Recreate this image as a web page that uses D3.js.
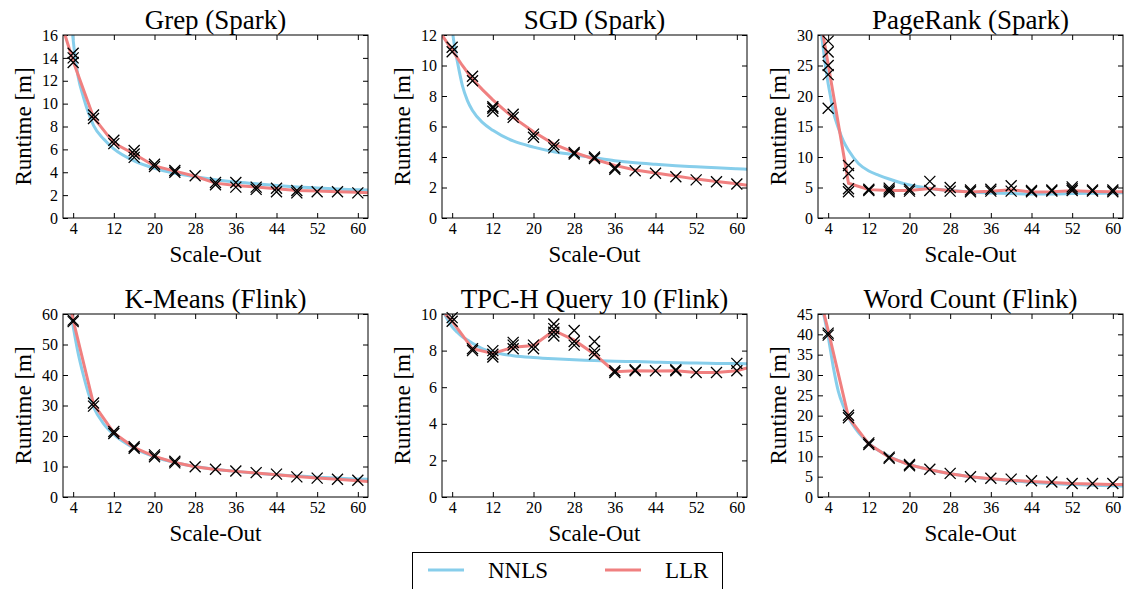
<!DOCTYPE html>
<html>
<head>
<meta charset="utf-8">
<script src="https://cdn.jsdelivr.net/npm/d3@7"></script>
<style>
	body { margin: 0; background: #fff; }
	svg { font-family: "Liberation Serif", "Times New Roman", serif; }
</style>
</head>
<body>
<svg width="1130" height="589"></svg>
<script>
// scale-outs of the experiments
var scaleOuts = [4, 8, 12, 16, 20, 24, 28, 32, 36, 40, 44, 48, 52, 56, 60];
var xTicks = [4, 12, 20, 28, 36, 44, 52, 60];

// measured runtimes, one list of runs per scale-out
var grepRuns = [[13.6, 14.0, 14.4], [8.7, 9.0], [6.5, 6.8], [5.3, 5.6, 5.9], [4.5, 4.7], [4.0, 4.15], [3.7], [2.9, 3.1],
	[2.7, 3.1], [2.5, 2.7], [2.3, 2.6], [2.2, 2.4], [2.3], [2.3], [2.2]];
var sgdRuns = [[10.9, 11.2], [9.0, 9.3], [7.0, 7.2, 7.3], [6.6, 6.8], [5.3, 5.5], [4.6, 4.8], [4.2, 4.3], [3.9, 4.0],
	[3.2, 3.3], [3.1], [2.93], [2.71], [2.5], [2.38], [2.23]];
var pagerankRuns = [[18, 23.5, 25, 27.2, 29], [4.3, 4.8, 7.3, 8.6], [4.5, 4.7], [4.3, 4.6, 4.9], [4.4, 4.7], [4.5, 6.0],
	[4.4, 5.0], [4.3, 4.6], [4.4, 4.7], [4.4, 5.3], [4.3, 4.5], [4.4, 4.6], [4.5, 4.8, 5.1], [4.4, 4.6], [4.3, 4.6]];
var kmeansRuns = [[57.5, 58], [29.8, 30.8], [20.8, 21.5], [16, 16.5], [13.2, 13.8], [11.2, 11.7], [9.9], [9.1],
	[8.5], [8.0], [7.5], [6.6], [6.2], [5.8], [5.5]];
var tpchRuns = [[9.6, 9.8], [8.0, 8.1], [7.65, 7.8, 8.0], [8.1, 8.3, 8.45], [8.1, 8.3], [8.8, 9.0, 9.2, 9.45],
	[8.3, 8.5, 9.1], [7.8, 8.0, 8.5], [6.8, 6.9], [6.9, 6.95], [6.9], [6.9, 6.95], [6.8], [6.8], [6.9, 7.3]];
var wordcountRuns = [[39.8, 40.3], [19.5, 20.1], [12.9, 13.3], [9.5, 9.8], [7.7, 8.0], [6.84], [5.8], [5.0],
	[4.6], [4.4], [4.0], [3.7], [3.3], [3.3], [3.3]];

// NNLS model curves, [scale-out, runtime]
var grepNNLS = [[3.9, 16], [4.4, 14], [5, 12.3], [6, 10.6], [7, 9.2], [8, 8.1], [10, 6.9], [12, 6.05], [16, 5.0], [20, 4.35],
	[24, 3.9], [28, 3.6], [32, 3.35], [36, 3.15], [40, 3.0], [44, 2.85], [48, 2.72], [52, 2.62], [56, 2.53], [60, 2.47], [62, 2.44]];
var sgdNNLS = [[4.15, 12], [4.5, 11.2], [5, 10.3], [6, 8.7], [7, 7.7], [8, 7.05], [10, 6.25], [12, 5.75], [16, 5.05],
	[20, 4.65], [24, 4.35], [28, 4.15], [32, 3.95], [36, 3.76], [40, 3.62], [44, 3.52], [48, 3.43], [52, 3.36], [56, 3.29], [60, 3.23], [62, 3.2]];
var pagerankNNLS = [[2.7, 30], [3.3, 26], [4, 22], [4.4, 20.2], [5, 17.5], [6, 14.75], [7, 12.6], [8, 11.1], [10, 8.9], [12, 7.7],
	[14, 7.0], [16, 6.4], [20, 5.4], [24, 4.85], [28, 4.5], [32, 4.25], [36, 4.1], [40, 4.0], [44, 3.95], [48, 3.95], [52, 4.0],
	[56, 4.05], [60, 4.1], [62, 4.15]];
var kmeansNNLS = [[3.6, 60], [4, 56], [5, 47], [6, 40], [7, 34], [8, 29.5], [10, 24], [12, 20.5], [16, 16], [20, 13.2], [24, 11.3],
	[28, 10], [32, 9.1], [36, 8.4], [40, 7.8], [44, 7.3], [48, 6.9], [52, 6.5], [56, 6.2], [60, 5.9], [62, 5.8]];
var tpchNNLS = [[2.5, 10], [4, 9.3], [5, 9.0], [6, 8.75], [7, 8.58], [8, 8.4], [10, 8.1], [12, 7.92], [14, 7.8], [16, 7.72],
	[20, 7.62], [24, 7.55], [28, 7.5], [32, 7.46], [36, 7.42], [40, 7.4], [44, 7.37], [48, 7.34], [52, 7.32], [56, 7.3], [60, 7.29], [62, 7.28]];
var wordcountNNLS = [[3.1, 45], [4, 39.5], [5, 32], [6, 26], [7, 22.3], [8, 19.5], [10, 15.8], [12, 13.2], [16, 10], [20, 8.0],
	[24, 6.7], [28, 5.7], [32, 5.0], [36, 4.4], [40, 4.0], [44, 3.6], [48, 3.3], [52, 3.1], [56, 2.9], [60, 2.75], [62, 2.7]];

// LLR model curves, [scale-out, runtime]
var grepLLR = [[2.4, 16], [4, 13.7], [8, 8.8], [12, 6.55], [16, 5.6], [20, 4.55], [24, 4.1], [28, 3.65], [32, 3.05], [36, 2.85],
	[40, 2.7], [44, 2.55], [48, 2.4], [52, 2.35], [56, 2.3], [60, 2.25], [62, 2.2]];
var sgdLLR = [[2, 12], [4, 11.0], [6, 10.0], [8, 9.1], [10, 8.4], [12, 7.75], [14, 7.15], [16, 6.6], [20, 5.65], [24, 4.85],
	[28, 4.3], [32, 3.85], [36, 3.45], [40, 3.15], [44, 2.95], [48, 2.75], [52, 2.55], [56, 2.4], [60, 2.25], [62, 2.15]];
var pagerankLLR = [[3, 30], [4, 25.2], [8, 5.7], [12, 4.65], [16, 4.5], [20, 4.5], [24, 4.85], [28, 4.45], [32, 4.25], [36, 4.4],
	[40, 4.65], [44, 4.25], [48, 4.3], [52, 4.45], [56, 4.35], [60, 4.3], [62, 4.3]];
var kmeansLLR = [[3.7, 60], [4, 58], [8, 30.5], [12, 21], [16, 16.2], [20, 13.3], [24, 11.3], [28, 9.9], [32, 9.0], [36, 8.4],
	[40, 7.9], [44, 7.3], [48, 6.7], [52, 6.2], [56, 5.8], [60, 5.3], [62, 5.1]];
var tpchLLR = [[2.6, 10], [4, 9.6], [8, 8.1], [12, 7.84], [16, 8.18], [20, 8.28], [24, 9.1], [28, 8.57], [32, 7.8], [36, 6.85],
	[40, 6.9], [44, 6.88], [48, 6.9], [52, 6.8], [56, 6.8], [60, 6.9], [62, 7.05]];
var wordcountLLR = [[3.2, 45], [4, 41], [8, 19.6], [12, 13], [16, 9.8], [20, 7.9], [24, 6.7], [28, 5.7], [32, 5.0], [36, 4.5],
	[40, 4.1], [44, 3.8], [48, 3.55], [52, 3.3], [56, 3.2], [60, 3.1], [62, 3.05]];

var titles = ["Grep (Spark)", "SGD (Spark)", "PageRank (Spark)", "K-Means (Flink)", "TPC-H Query 10 (Flink)", "Word Count (Flink)"];
var yMaxes = [16, 12, 30, 60, 10, 45];
var ySteps = [2, 2, 5, 10, 2, 5];
var legendLabels = ["NNLS", "LLR"];

var nnlsColor = "#87ceeb", llrColor = "#f08080";

var panels = [
	{runs: grepRuns, nnls: grepNNLS, llr: grepLLR},
	{runs: sgdRuns, nnls: sgdNNLS, llr: sgdLLR},
	{runs: pagerankRuns, nnls: pagerankNNLS, llr: pagerankLLR},
	{runs: kmeansRuns, nnls: kmeansNNLS, llr: kmeansLLR},
	{runs: tpchRuns, nnls: tpchNNLS, llr: tpchLLR},
	{runs: wordcountRuns, nnls: wordcountNNLS, llr: wordcountLLR}
];

var svg = d3.select('svg');
var colLeft = [63, 442, 818], rowTop = [35, 314];
var pw = 305, ph = 183;

panels.forEach(function(p, i) {
	var left = colLeft[i % 3], top = rowTop[Math.floor(i / 3)];
	var g = svg.append('g').attr('transform', 'translate(' + left + ',' + top + ')');
	var x = d3.scaleLinear().domain([2, 62]).range([0, pw]);
	var y = d3.scaleLinear().domain([0, yMaxes[i]]).range([ph, 0]);
	var yTicks = d3.range(0, yMaxes[i] + 0.001, ySteps[i]);

	g.append('clipPath').attr('id', 'clip' + i)
		.append('rect').attr('width', pw).attr('height', ph);

	// axes, ticks pointing inward on all four sides
	var ax = g.append('g').attr('transform', 'translate(0,' + ph + ')')
		.call(d3.axisBottom(x).tickValues(xTicks).tickSizeInner(-5).tickSizeOuter(0).tickPadding(5));
	var ay = g.append('g')
		.call(d3.axisLeft(y).tickValues(yTicks).tickSizeInner(-5).tickSizeOuter(0).tickPadding(5));
	var at = g.append('g')
		.call(d3.axisTop(x).tickValues(xTicks).tickSizeInner(-5).tickSizeOuter(0).tickFormat(''));
	var ar = g.append('g').attr('transform', 'translate(' + pw + ',0)')
		.call(d3.axisRight(y).tickValues(yTicks).tickSizeInner(-5).tickSizeOuter(0).tickFormat(''));
	[ax, ay, at, ar].forEach(function(a) {
		a.select('.domain').remove();
		a.selectAll('line').attr('stroke', '#000');
		a.selectAll('text').attr('font-family', '"Liberation Serif", "Times New Roman", serif')
			.attr('font-size', 16).attr('fill', '#000');
	});

	// model curves
	var line = d3.line().x(function(d) {return x(d[0])}).y(function(d) {return y(d[1])});
	var plot = g.append('g').attr('clip-path', 'url(#clip' + i + ')');
	plot.append('path').datum(p.nnls)
		.attr('fill', 'none').attr('stroke', nnlsColor).attr('stroke-width', 3)
		.attr('d', line.curve(d3.curveMonotoneX));
	plot.append('path').datum(p.llr)
		.attr('fill', 'none').attr('stroke', llrColor).attr('stroke-width', 3)
		.attr('d', line.curve(d3.curveLinear));

	// measured runs as crosses
	var pts = [];
	p.runs.forEach(function(r, j) {
		r.forEach(function(v) { pts.push([scaleOuts[j], v]); });
	});
	g.selectAll('path.run').data(pts).enter().append('path')
		.attr('class', 'run')
		.attr('fill', 'none').attr('stroke', '#000').attr('stroke-width', 1.3)
		.attr('d', function(d) {
			var cx = x(d[0]), cy = y(d[1]), s = 5.5;
			return 'M' + (cx - s) + ',' + (cy - s) + 'L' + (cx + s) + ',' + (cy + s) +
				'M' + (cx - s) + ',' + (cy + s) + 'L' + (cx + s) + ',' + (cy - s);
		});

	g.append('rect').attr('width', pw).attr('height', ph)
		.attr('fill', 'none').attr('stroke', '#000').attr('stroke-width', 1);

	// labels
	g.append('text').attr('x', pw / 2).attr('y', -6).attr('text-anchor', 'middle')
		.attr('font-size', 27).text(titles[i]);
	g.append('text').attr('x', pw / 2).attr('y', ph + 44).attr('text-anchor', 'middle')
		.attr('font-size', 23).text('Scale-Out');
	g.append('text').attr('transform', 'translate(-32,' + (ph / 2) + ') rotate(-90)')
		.attr('text-anchor', 'middle').attr('font-size', 23).text('Runtime [m]');
});

// legend
var lg = svg.append('g');
lg.append('rect').attr('x', 412.5).attr('y', 552.5).attr('width', 310).attr('height', 60)
	.attr('fill', '#fff').attr('stroke', '#000').attr('stroke-width', 1);
[nnlsColor, llrColor].forEach(function(c, k) {
	var lx = 428 + k * 177;
	lg.append('line').attr('x1', lx).attr('x2', lx + 36).attr('y1', 570).attr('y2', 570)
		.attr('stroke', c).attr('stroke-width', 3);
	lg.append('text').attr('x', lx + 60).attr('y', 578).attr('font-size', 23).text(legendLabels[k]);
});
</script>
</body>
</html>
